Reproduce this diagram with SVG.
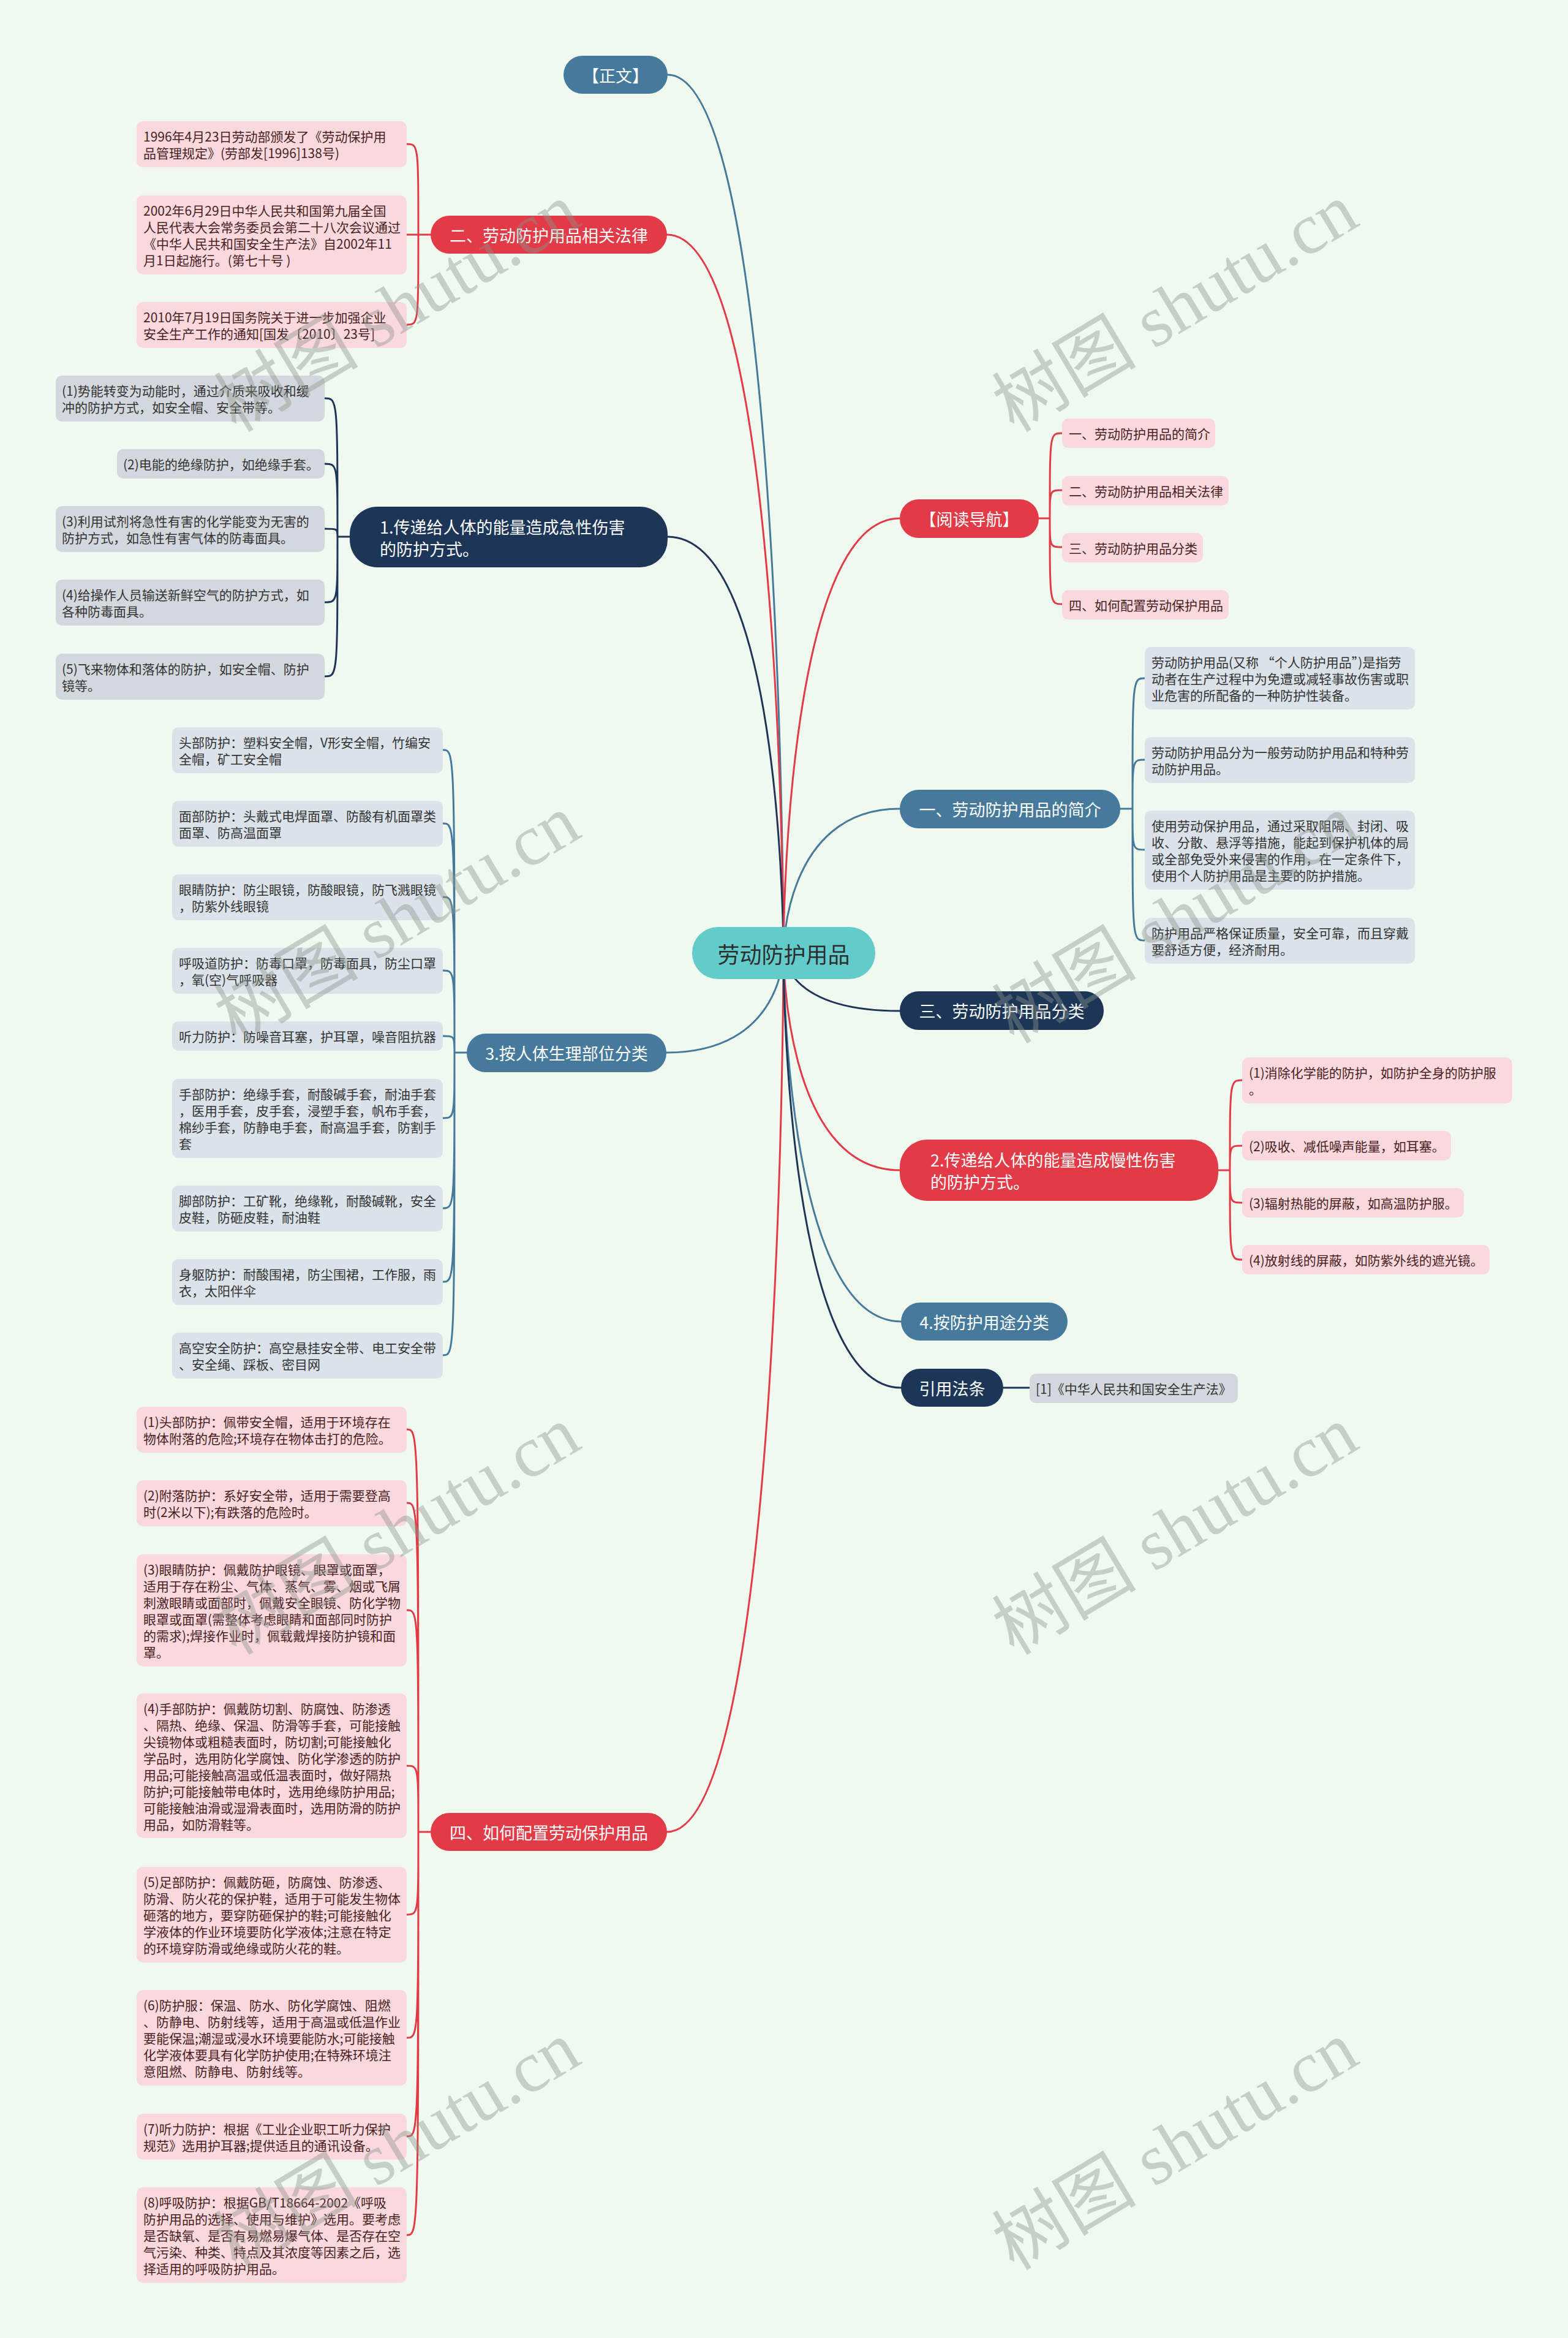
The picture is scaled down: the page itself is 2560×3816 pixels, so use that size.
<svg xmlns="http://www.w3.org/2000/svg" width="2560" height="3816" viewBox="0 0 2560 3816">
<style>
text{font-family:"Noto Sans CJK SC","Noto Sans",sans-serif;dominant-baseline:central}
.nr{fill:#E23A46}.nb{fill:#467A9C}.nn{fill:#1D3557}.nc{fill:#62CCCB}
.lp{fill:#F9D9DE}.lg{fill:#D3D8DF}.lb{fill:#DAE2EA}
.tn{font-size:27px;fill:#FFFFFF}
.tc{font-size:36px;fill:#2E2E2E}
.tl{font-size:21px}
.tp{fill:#4A1E20}.tg{fill:#333333}
.c{fill:none;stroke-width:3;stroke-linecap:round}
.cr{stroke:#E23A46}.cb{stroke:#467A9C}.cn{stroke:#1D3557}
.wm{font-family:"Liberation Serif","Noto Sans CJK SC",serif;font-size:118px;fill:#8C968C;opacity:0.42;dominant-baseline:auto}
</style>
<rect x="0" y="0" width="2560" height="3816" fill="#F0F9F0"/>

<g id="connectors">
  <path class="c cb" d="M1279,1555 C1279,1555 1279,122 1090,122"/>
  <path class="c cr" d="M1279,1555 C1279,1555 1279,383 1089,383"/>
  <path class="c cn" d="M1279,1555 C1279,1555 1279,876 1090,876"/>
  <path class="c cb" d="M1279,1555 C1279,1555 1279,1718 1088,1718"/>
  <path class="c cr" d="M1279,1555 C1279,1555 1279,2990 1089,2990"/>
  <path class="c cr" d="M1279,1555 C1279,1555 1279,846 1469,846"/>
  <path class="c cb" d="M1279,1555 C1279,1555 1279,1320 1469,1320"/>
  <path class="c cn" d="M1279,1555 C1279,1555 1279,1650 1469,1650"/>
  <path class="c cr" d="M1279,1555 C1279,1555 1279,1910 1469,1910"/>
  <path class="c cb" d="M1279,1555 C1279,1555 1279,2157 1471,2157"/>
  <path class="c cn" d="M1279,1555 C1279,1555 1279,2265 1471,2265"/>

  <!-- 二 children -->
  <path class="c cr" d="M703,383 H683 M683,383 C683,235 683,235 664,235 M683,383 C683,383 683,383 664,383 M683,383 C683,530 683,530 664,530"/>
  <!-- 1. children -->
  <path class="c cn" d="M571,876 H551 M551,876 C551,650 551,650 530,650 M551,876 C551,757 551,757 530,757 M551,876 C551,863 551,863 530,863 M551,876 C551,983 551,983 530,983 M551,876 C551,1104 551,1104 530,1104"/>
  <!-- 3. children -->
  <path class="c cb" d="M762,1718 H742 M742,1718 C742,1224 742,1224 723,1224 M742,1718 C742,1344 742,1344 723,1344 M742,1718 C742,1464 742,1464 723,1464 M742,1718 C742,1584 742,1584 723,1584 M742,1718 C742,1691 742,1691 723,1691 M742,1718 C742,1825 742,1825 723,1825 M742,1718 C742,1972 742,1972 723,1972 M742,1718 C742,2092 742,2092 723,2092 M742,1718 C742,2212 742,2212 723,2212"/>
  <!-- 四 children -->
  <path class="c cr" d="M703,2990 H683 M683,2990 C683,2333 683,2333 664,2333 M683,2990 C683,2453 683,2453 664,2453 M683,2990 C683,2628 683,2628 664,2628 M683,2990 C683,2882 683,2882 664,2882 M683,2990 C683,3125 683,3125 664,3125 M683,2990 C683,3326 683,3326 664,3326 M683,2990 C683,3487 683,3487 664,3487 M683,2990 C683,3648 683,3648 664,3648"/>
  <!-- 阅读导航 children -->
  <path class="c cr" d="M1696,846 H1714 M1714,846 C1714,707 1714,707 1734,707 M1714,846 C1714,800 1714,800 1734,800 M1714,846 C1714,893 1714,893 1734,893 M1714,846 C1714,986 1714,986 1734,986"/>
  <!-- 一 children -->
  <path class="c cb" d="M1829,1320 H1849 M1849,1320 C1849,1107 1849,1107 1869,1107 M1849,1320 C1849,1240 1849,1240 1869,1240 M1849,1320 C1849,1387 1849,1387 1869,1387 M1849,1320 C1849,1535 1849,1535 1869,1535"/>
  <!-- 2. children -->
  <path class="c cr" d="M1989,1910 H2008 M2008,1910 C2008,1763 2008,1763 2028,1763 M2008,1910 C2008,1870 2008,1870 2028,1870 M2008,1910 C2008,1963 2008,1963 2028,1963 M2008,1910 C2008,2056 2008,2056 2028,2056"/>
  <!-- 引用法条 child -->
  <path class="c cn" d="M1638,2265 H1681"/>
</g>

<g id="center">
  <rect class="nc" x="1130" y="1513" width="299" height="85" rx="42"/>
  <text class="tc" x="1279.5" y="1555.5" text-anchor="middle">劳动防护用品</text>
</g>

<g id="n-zhengwen">
  <rect class="nb" x="920" y="91" width="170" height="62" rx="31"/>
  <text class="tn" x="1005" y="122" text-anchor="middle">【正文】</text>
</g>

<g id="n-law">
  <rect class="nr" x="703" y="352" width="386" height="62" rx="31"/>
  <text class="tn" x="896" y="383" text-anchor="middle">二、劳动防护用品相关法律</text>
</g>
<g id="law-1"><rect class="lp" x="223" y="198" width="441" height="75" rx="10"/>
  <text class="tl tp" x="234" y="222">1996年4月23日劳动部颁发了《劳动保护用</text>
  <text class="tl tp" x="234" y="249">品管理规定》(劳部发[1996]138号)</text></g>
<g id="law-2"><rect class="lp" x="223" y="319" width="441" height="129" rx="10"/>
  <text class="tl tp" x="234" y="343">2002年6月29日中华人民共和国第九届全国</text>
  <text class="tl tp" x="234" y="370">人民代表大会常务委员会第二十八次会议通过</text>
  <text class="tl tp" x="234" y="397">《中华人民共和国安全生产法》自2002年11</text>
  <text class="tl tp" x="234" y="424">月1日起施行。(第七十号 )</text></g>
<g id="law-3"><rect class="lp" x="223" y="493" width="441" height="75" rx="10"/>
  <text class="tl tp" x="234" y="517">2010年7月19日国务院关于进一步加强企业</text>
  <text class="tl tp" x="234" y="544">安全生产工作的通知[国发〔2010〕23号]</text></g>

<g id="n-acute">
  <rect class="nn" x="571" y="827" width="519" height="99" rx="45"/>
  <text class="tn" x="620" y="859">1.传递给人体的能量造成急性伤害</text>
  <text class="tn" x="620" y="895">的防护方式。</text>
</g>
<g id="acute-1"><rect class="lg" x="91" y="613" width="439" height="75" rx="10"/>
  <text class="tl tg" x="101" y="637">(1)势能转变为动能时，通过介质来吸收和缓</text>
  <text class="tl tg" x="101" y="664">冲的防护方式，如安全帽、安全带等。</text></g>
<g id="acute-2"><rect class="lg" x="191" y="733" width="339" height="48" rx="10"/>
  <text class="tl tg" x="201" y="757">(2)电能的绝缘防护，如绝缘手套。</text></g>
<g id="acute-3"><rect class="lg" x="91" y="826" width="439" height="75" rx="10"/>
  <text class="tl tg" x="101" y="850">(3)利用试剂将急性有害的化学能变为无害的</text>
  <text class="tl tg" x="101" y="877">防护方式，如急性有害气体的防毒面具。</text></g>
<g id="acute-4"><rect class="lg" x="91" y="946" width="439" height="75" rx="10"/>
  <text class="tl tg" x="101" y="970">(4)给操作人员输送新鲜空气的防护方式，如</text>
  <text class="tl tg" x="101" y="997">各种防毒面具。</text></g>
<g id="acute-5"><rect class="lg" x="91" y="1067" width="439" height="75" rx="10"/>
  <text class="tl tg" x="101" y="1091">(5)飞来物体和落体的防护，如安全帽、防护</text>
  <text class="tl tg" x="101" y="1118">镜等。</text></g>

<g id="n-body">
  <rect class="nb" x="762" y="1687" width="326" height="63" rx="31"/>
  <text class="tn" x="925" y="1718.5" text-anchor="middle">3.按人体生理部位分类</text>
</g>
<g id="body-1"><rect class="lb" x="281" y="1187" width="442" height="75" rx="10"/>
  <text class="tl tg" x="292" y="1211">头部防护：塑料安全帽，V形安全帽，竹编安</text>
  <text class="tl tg" x="292" y="1238">全帽，矿工安全帽</text></g>
<g id="body-2"><rect class="lb" x="281" y="1307" width="442" height="75" rx="10"/>
  <text class="tl tg" x="292" y="1331">面部防护：头戴式电焊面罩、防酸有机面罩类</text>
  <text class="tl tg" x="292" y="1358">面罩、防高温面罩</text></g>
<g id="body-3"><rect class="lb" x="281" y="1427" width="442" height="75" rx="10"/>
  <text class="tl tg" x="292" y="1451">眼睛防护：防尘眼镜，防酸眼镜，防飞溅眼镜</text>
  <text class="tl tg" x="292" y="1478">，防紫外线眼镜</text></g>
<g id="body-4"><rect class="lb" x="281" y="1547" width="442" height="75" rx="10"/>
  <text class="tl tg" x="292" y="1571">呼吸道防护：防毒口罩，防毒面具，防尘口罩</text>
  <text class="tl tg" x="292" y="1598">，氧(空)气呼吸器</text></g>
<g id="body-5"><rect class="lb" x="281" y="1667" width="442" height="48" rx="10"/>
  <text class="tl tg" x="292" y="1691">听力防护：防噪音耳塞，护耳罩，噪音阻抗器</text></g>
<g id="body-6"><rect class="lb" x="281" y="1761" width="442" height="129" rx="10"/>
  <text class="tl tg" x="292" y="1785">手部防护：绝缘手套，耐酸碱手套，耐油手套</text>
  <text class="tl tg" x="292" y="1812">，医用手套，皮手套，浸塑手套，帆布手套，</text>
  <text class="tl tg" x="292" y="1839">棉纱手套，防静电手套，耐高温手套，防割手</text>
  <text class="tl tg" x="292" y="1866">套</text></g>
<g id="body-7"><rect class="lb" x="281" y="1935" width="442" height="75" rx="10"/>
  <text class="tl tg" x="292" y="1959">脚部防护：工矿靴，绝缘靴，耐酸碱靴，安全</text>
  <text class="tl tg" x="292" y="1986">皮鞋，防砸皮鞋，耐油鞋</text></g>
<g id="body-8"><rect class="lb" x="281" y="2055" width="442" height="75" rx="10"/>
  <text class="tl tg" x="292" y="2079">身躯防护：耐酸围裙，防尘围裙，工作服，雨</text>
  <text class="tl tg" x="292" y="2106">衣，太阳伴伞</text></g>
<g id="body-9"><rect class="lb" x="281" y="2175" width="442" height="75" rx="10"/>
  <text class="tl tg" x="292" y="2199">高空安全防护：高空悬挂安全带、电工安全带</text>
  <text class="tl tg" x="292" y="2226">、安全绳、踩板、密目网</text></g>

<g id="n-config">
  <rect class="nr" x="703" y="2959" width="386" height="62" rx="31"/>
  <text class="tn" x="896" y="2990" text-anchor="middle">四、如何配置劳动保护用品</text>
</g>
<g id="cfg-1"><rect class="lp" x="223" y="2296" width="441" height="75" rx="10"/>
  <text class="tl tp" x="234" y="2320">(1)头部防护：佩带安全帽，适用于环境存在</text>
  <text class="tl tp" x="234" y="2347">物体附落的危险;环境存在物体击打的危险。</text></g>
<g id="cfg-2"><rect class="lp" x="223" y="2416" width="441" height="75" rx="10"/>
  <text class="tl tp" x="234" y="2440">(2)附落防护：系好安全带，适用于需要登高</text>
  <text class="tl tp" x="234" y="2467">时(2米以下);有跌落的危险时。</text></g>
<g id="cfg-3"><rect class="lp" x="223" y="2537" width="441" height="183" rx="10"/>
  <text class="tl tp" x="234" y="2561">(3)眼睛防护：佩戴防护眼镜、眼罩或面罩，</text>
  <text class="tl tp" x="234" y="2588">适用于存在粉尘、气体、蒸气、雾、烟或飞屑</text>
  <text class="tl tp" x="234" y="2615">刺激眼睛或面部时，佩戴安全眼镜、防化学物</text>
  <text class="tl tp" x="234" y="2642">眼罩或面罩(需整体考虑眼睛和面部同时防护</text>
  <text class="tl tp" x="234" y="2669">的需求);焊接作业时，佩载戴焊接防护镜和面</text>
  <text class="tl tp" x="234" y="2696">罩。</text></g>
<g id="cfg-4"><rect class="lp" x="223" y="2764" width="441" height="236" rx="10"/>
  <text class="tl tp" x="234" y="2788">(4)手部防护：佩戴防切割、防腐蚀、防渗透</text>
  <text class="tl tp" x="234" y="2815">、隔热、绝缘、保温、防滑等手套，可能接触</text>
  <text class="tl tp" x="234" y="2842">尖镜物体或粗糙表面时，防切割;可能接触化</text>
  <text class="tl tp" x="234" y="2869">学品时，选用防化学腐蚀、防化学渗透的防护</text>
  <text class="tl tp" x="234" y="2896">用品;可能接触高温或低温表面时，做好隔热</text>
  <text class="tl tp" x="234" y="2923">防护;可能接触带电体时，选用绝缘防护用品;</text>
  <text class="tl tp" x="234" y="2950">可能接触油滑或湿滑表面时，选用防滑的防护</text>
  <text class="tl tp" x="234" y="2977">用品，如防滑鞋等。</text></g>
<g id="cfg-5"><rect class="lp" x="223" y="3047" width="441" height="156" rx="10"/>
  <text class="tl tp" x="234" y="3071">(5)足部防护：佩戴防砸，防腐蚀、防渗透、</text>
  <text class="tl tp" x="234" y="3098">防滑、防火花的保护鞋，适用于可能发生物体</text>
  <text class="tl tp" x="234" y="3125">砸落的地方，要穿防砸保护的鞋;可能接触化</text>
  <text class="tl tp" x="234" y="3152">学液体的作业环境要防化学液体;注意在特定</text>
  <text class="tl tp" x="234" y="3179">的环境穿防滑或绝缘或防火花的鞋。</text></g>
<g id="cfg-6"><rect class="lp" x="223" y="3248" width="441" height="156" rx="10"/>
  <text class="tl tp" x="234" y="3272">(6)防护服：保温、防水、防化学腐蚀、阻燃</text>
  <text class="tl tp" x="234" y="3299">、防静电、防射线等，适用于高温或低温作业</text>
  <text class="tl tp" x="234" y="3326">要能保温;潮湿或浸水环境要能防水;可能接触</text>
  <text class="tl tp" x="234" y="3353">化学液体要具有化学防护使用;在特殊环境注</text>
  <text class="tl tp" x="234" y="3380">意阻燃、防静电、防射线等。</text></g>
<g id="cfg-7"><rect class="lp" x="223" y="3450" width="441" height="75" rx="10"/>
  <text class="tl tp" x="234" y="3474">(7)听力防护：根据《工业企业职工听力保护</text>
  <text class="tl tp" x="234" y="3501">规范》选用护耳器;提供适且的通讯设备。</text></g>
<g id="cfg-8"><rect class="lp" x="223" y="3570" width="441" height="156" rx="10"/>
  <text class="tl tp" x="234" y="3594">(8)呼吸防护：根据GB/T18664-2002《呼吸</text>
  <text class="tl tp" x="234" y="3621">防护用品的选择、使用与维护》选用。要考虑</text>
  <text class="tl tp" x="234" y="3648">是否缺氧、是否有易燃易爆气体、是否存在空</text>
  <text class="tl tp" x="234" y="3675">气污染、种类、特点及其浓度等因素之后，选</text>
  <text class="tl tp" x="234" y="3702">择适用的呼吸防护用品。</text></g>

<g id="n-nav">
  <rect class="nr" x="1469" y="815" width="227" height="63" rx="31"/>
  <text class="tn" x="1582.5" y="846.5" text-anchor="middle">【阅读导航】</text>
</g>
<g id="nav-1"><rect class="lp" x="1734" y="683" width="250" height="48" rx="10"/>
  <text class="tl tp" x="1745" y="707">一、劳动防护用品的简介</text></g>
<g id="nav-2"><rect class="lp" x="1734" y="777" width="272" height="48" rx="10"/>
  <text class="tl tp" x="1745" y="801">二、劳动防护用品相关法律</text></g>
<g id="nav-3"><rect class="lp" x="1734" y="870" width="230" height="48" rx="10"/>
  <text class="tl tp" x="1745" y="894">三、劳动防护用品分类</text></g>
<g id="nav-4"><rect class="lp" x="1734" y="963" width="272" height="48" rx="10"/>
  <text class="tl tp" x="1745" y="987">四、如何配置劳动保护用品</text></g>

<g id="n-intro">
  <rect class="nb" x="1469" y="1289" width="360" height="63" rx="31"/>
  <text class="tn" x="1649" y="1320.5" text-anchor="middle">一、劳动防护用品的简介</text>
</g>
<g id="intro-1"><rect class="lb" x="1869" y="1056" width="441" height="102" rx="10"/>
  <text class="tl tg" x="1880" y="1080">劳动防护用品(又称 “个人防护用品”)是指劳</text>
  <text class="tl tg" x="1880" y="1107">动者在生产过程中为免遭或减轻事故伤害或职</text>
  <text class="tl tg" x="1880" y="1134">业危害的所配备的一种防护性装备。</text></g>
<g id="intro-2"><rect class="lb" x="1869" y="1203" width="441" height="75" rx="10"/>
  <text class="tl tg" x="1880" y="1227">劳动防护用品分为一般劳动防护用品和特种劳</text>
  <text class="tl tg" x="1880" y="1254">动防护用品。</text></g>
<g id="intro-3"><rect class="lb" x="1869" y="1323" width="441" height="129" rx="10"/>
  <text class="tl tg" x="1880" y="1347">使用劳动保护用品，通过采取阻隔、封闭、吸</text>
  <text class="tl tg" x="1880" y="1374">收、分散、悬浮等措施，能起到保护机体的局</text>
  <text class="tl tg" x="1880" y="1401">或全部免受外来侵害的作用，在一定条件下，</text>
  <text class="tl tg" x="1880" y="1428">使用个人防护用品是主要的防护措施。</text></g>
<g id="intro-4"><rect class="lb" x="1869" y="1498" width="441" height="75" rx="10"/>
  <text class="tl tg" x="1880" y="1522">防护用品严格保证质量，安全可靠，而且穿戴</text>
  <text class="tl tg" x="1880" y="1549">要舒适方便，经济耐用。</text></g>

<g id="n-class">
  <rect class="nn" x="1469" y="1618" width="333" height="63" rx="31"/>
  <text class="tn" x="1635.5" y="1649.5" text-anchor="middle">三、劳动防护用品分类</text>
</g>

<g id="n-chronic">
  <rect class="nr" x="1469" y="1860" width="520" height="100" rx="45"/>
  <text class="tn" x="1519" y="1892">2.传递给人体的能量造成慢性伤害</text>
  <text class="tn" x="1519" y="1928">的防护方式。</text>
</g>
<g id="chronic-1"><rect class="lp" x="2028" y="1726" width="441" height="75" rx="10"/>
  <text class="tl tp" x="2039" y="1750">(1)消除化学能的防护，如防护全身的防护服</text>
  <text class="tl tp" x="2039" y="1777">。</text></g>
<g id="chronic-2"><rect class="lp" x="2028" y="1846" width="341" height="48" rx="10"/>
  <text class="tl tp" x="2039" y="1870">(2)吸收、减低噪声能量，如耳塞。</text></g>
<g id="chronic-3"><rect class="lp" x="2028" y="1939" width="362" height="48" rx="10"/>
  <text class="tl tp" x="2039" y="1963">(3)辐射热能的屏蔽，如高温防护服。</text></g>
<g id="chronic-4"><rect class="lp" x="2028" y="2032" width="404" height="48" rx="10"/>
  <text class="tl tp" x="2039" y="2056">(4)放射线的屏蔽，如防紫外线的遮光镜。</text></g>

<g id="n-use">
  <rect class="nb" x="1471" y="2126" width="272" height="62" rx="31"/>
  <text class="tn" x="1607" y="2157" text-anchor="middle">4.按防护用途分类</text>
</g>

<g id="n-cite">
  <rect class="nn" x="1471" y="2234" width="167" height="62" rx="31"/>
  <text class="tn" x="1554.5" y="2265" text-anchor="middle">引用法条</text>
</g>
<g id="cite-1"><rect class="lg" x="1681" y="2242" width="340" height="48" rx="10"/>
  <text class="tl tg" x="1691" y="2266">[1]《中华人民共和国安全生产法》</text></g>

<g id="watermarks">
  <text class="wm" x="657" y="540" text-anchor="middle" transform="rotate(-31 657 516)">树图 shutu.cn</text>
  <text class="wm" x="1927" y="540" text-anchor="middle" transform="rotate(-31 1927 516)">树图 shutu.cn</text>
  <text class="wm" x="657" y="1538" text-anchor="middle" transform="rotate(-31 657 1514)">树图 shutu.cn</text>
  <text class="wm" x="1927" y="1538" text-anchor="middle" transform="rotate(-31 1927 1514)">树图 shutu.cn</text>
  <text class="wm" x="657" y="2536" text-anchor="middle" transform="rotate(-31 657 2512)">树图 shutu.cn</text>
  <text class="wm" x="1927" y="2536" text-anchor="middle" transform="rotate(-31 1927 2512)">树图 shutu.cn</text>
  <text class="wm" x="657" y="3540" text-anchor="middle" transform="rotate(-31 657 3516)">树图 shutu.cn</text>
  <text class="wm" x="1927" y="3540" text-anchor="middle" transform="rotate(-31 1927 3516)">树图 shutu.cn</text>
</g>
</svg>
